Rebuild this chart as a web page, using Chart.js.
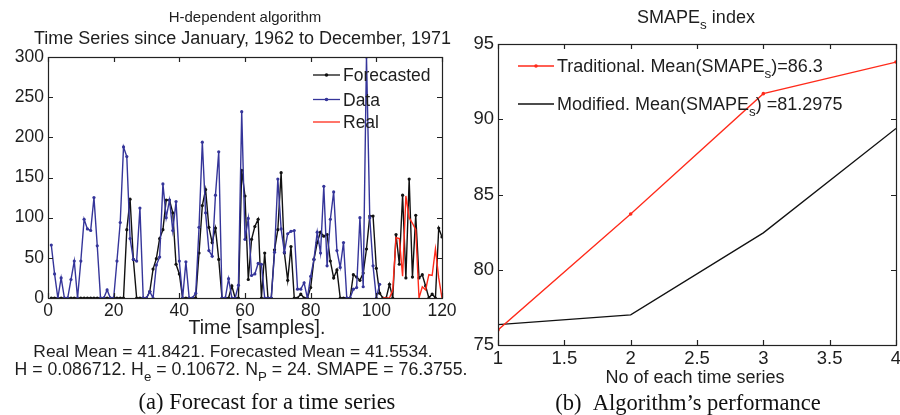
<!DOCTYPE html>
<html><head><meta charset="utf-8">
<script src="https://cdn.jsdelivr.net/npm/chart.js@4.4.1/dist/chart.umd.min.js"></script>
<style>
html,body{margin:0;padding:0;background:#fff;}
#wrap{position:relative;width:900px;height:415px;overflow:hidden;background:#fff;}
#c1{position:absolute;left:0;top:0;}
#c2{position:absolute;left:460px;top:0;}
</style></head><body>
<div id="wrap">
<canvas id="c1" width="480" height="415" style="width:480px;height:415px"></canvas>
<canvas id="c2" width="450" height="415" style="width:450px;height:415px"></canvas>
</div>
<script>
// ---------- data (left panel) ----------
const dataStart = 1;
const dataSeries = [
  66,30,0,25,0,0,23,46,0,46,
  98,86,84,125,65,0,0,10,0,0,
  46,94,188,176,74,48,46,112,0,0,
  8,0,41,51,142,100,122,84,120,46,
  0,45,0,0,6,88,194,106,59,52,
  128,182,0,0,24,0,0,16,232,73,
  99,28,30,43,42,0,0,0,57,148,
  86,57,80,83,84,11,11,19,0,27,
  48,82,56,139,40,98,132,59,38,69,
  0,0,11,13,100,14,300,100,40,0,
  17
];
const forecastStart = 1;
const forecastSeries = [
  0,0,0,0,0,0,0,0,0,0,
  0,0,0,0,0,0,0,0,0,0,
  0,0,0,85,123,48,0,0,0,0,
  8,36,49,74,85,122,122,106,42,30,
  0,0,0,0,0,56,115,135,88,69,
  87,48,0,0,0,15,0,0,159,127,
  23,73,89,98,0,56,0,0,60,85,
  156,56,22,64,0,0,5,0,0,13,
  48,69,82,77,79,46,25,35,0,0,
  0,0,29,26,22,31,61,102,102,37,
  6,0,0,17,0,79,42,128,25,148,
  26,103,25,29,15,0,5,0,87,76
];
const realStart = 102;
const realSeries = [0,0,0,10,75,74,27,127,100,93,85,0,14,10,29,28,61,25,0];
const leftLegend = ['Forecasted','Data','Real'];

// ---------- data (right panel) ----------
const seriesNo = [1,2,3,4];
const traditional = [76.0,83.7,91.7,93.8];
const modified = [76.35,77.0,82.45,89.39];

const FONT = '"Liberation Sans", Arial, sans-serif';
const SERIF = '"Liberation Serif", "Times New Roman", serif';
const TXT = '#1e1e1e';
const BLUE = '#35359a';
const RED = '#ff2a1a';
const BLACK = '#111111';

function toXY(arr, start){ return arr.map((v,i)=>({x:start+i, y:v})); }

// rich text with subscripts: parts = [[text, isSub], ...]
function rich(ctx, parts, x, y, size, opts){
  opts = opts || {};
  const fam = opts.family || FONT;
  const sub = size*0.75;
  ctx.save();
  ctx.fillStyle = opts.color || TXT;
  ctx.textBaseline = 'alphabetic';
  ctx.textAlign = 'left';
  let w = 0;
  parts.forEach(p=>{ ctx.font = (p[1]?sub:size)+'px '+fam; w += ctx.measureText(p[0]).width; });
  let cx = opts.align === 'left' ? x : x - w/2;
  const base = y + size*0.36;
  parts.forEach(p=>{
    ctx.font = (p[1]?sub:size)+'px '+fam;
    ctx.fillText(p[0], cx, p[1] ? base + size*0.32 : base);
    cx += ctx.measureText(p[0]).width;
  });
  ctx.restore();
}

const boxTicks = {
  id:'boxTicks',
  afterDatasetsDraw(chart){
    const {ctx, chartArea:a, scales} = chart;
    const x = scales.x, y = scales.y;
    ctx.save();
    ctx.strokeStyle = '#222'; ctx.lineWidth = 1.2;
    ctx.strokeRect(Math.round(a.left)+0.5, Math.round(a.top)+0.5, Math.round(a.right-a.left), Math.round(a.bottom-a.top));
    const L = 5;
    ctx.beginPath();
    x.ticks.forEach(t=>{
      const p = Math.round(x.getPixelForValue(t.value))+0.5;
      ctx.moveTo(p, a.bottom); ctx.lineTo(p, a.bottom-L);
      ctx.moveTo(p, a.top); ctx.lineTo(p, a.top+L);
    });
    y.ticks.forEach(t=>{
      const p = Math.round(y.getPixelForValue(t.value))+0.5;
      ctx.moveTo(a.left, p); ctx.lineTo(a.left+L, p);
      ctx.moveTo(a.right, p); ctx.lineTo(a.right-L, p);
    });
    ctx.stroke();
    ctx.restore();
  }
};

function legendLine(ctx, x1, x2, y, color, marker){
  ctx.save();
  ctx.strokeStyle = color; ctx.lineWidth = 1.3;
  ctx.beginPath(); ctx.moveTo(x1, y); ctx.lineTo(x2, y); ctx.stroke();
  if (marker){ ctx.fillStyle = color; ctx.beginPath(); ctx.arc((x1+x2)/2, y, 1.8, 0, Math.PI*2); ctx.fill(); }
  ctx.restore();
}

const leftText = {
  id:'leftText',
  afterDraw(chart){
    const ctx = chart.ctx;
    rich(ctx, [['H-dependent algorithm']], 245, 17, 15);
    rich(ctx, [['Time Series since January, 1962 to December, 1971']], 242.5, 38, 18);
    rich(ctx, [['Time [samples].']], 257, 327, 19.5);
    rich(ctx, [['Real Mean = 41.8421. Forecasted Mean = 41.5534.']], 233, 351, 17.4);
    rich(ctx, [['H = 0.086712. H'],['e',1],[' = 0.10672. N'],['P',1],[' = 24. SMAPE = 76.3755.']], 241, 369, 17.7);
    rich(ctx, [['(a) Forecast for a time series']], 267, 401, 22.5, {family:SERIF, color:'#111'});
    const cols = [BLACK, BLUE, RED];
    const ys = [75, 99.5, 122];
    leftLegend.forEach((lab,i)=>{
      legendLine(ctx, 313, 340, ys[i], cols[i], i<2);
      rich(ctx, [[lab]], 343, ys[i], 17.5, {align:'left'});
    });
  }
};

const rightText = {
  id:'rightText',
  afterDraw(chart){
    const ctx = chart.ctx;
    rich(ctx, [['SMAPE'],['s',1],[' index']], 236, 17, 18);
    rich(ctx, [['No of each time series']], 235, 377, 18);
    rich(ctx, [['(b)  Algorithm\u2019s performance']], 228, 402, 22.5, {family:SERIF, color:'#111'});
    legendLine(ctx, 58, 94, 66, RED, true);
    rich(ctx, [['Traditional. Mean(SMAPE'],['s',1],[')=86.3']], 97, 66, 18, {align:'left'});
    legendLine(ctx, 58, 94, 104, BLACK, false);
    rich(ctx, [['Modified. Mean(SMAPE'],['s',1],[') =81.2975']], 97, 104, 18, {align:'left'});
  }
};

Chart.defaults.font.family = FONT;
Chart.defaults.color = TXT;
Chart.defaults.animation = false;

new Chart(document.getElementById('c1'), {
  type:'line',
  data:{ datasets:[
    {label:leftLegend[0], data:toXY(forecastSeries, forecastStart), borderColor:BLACK, backgroundColor:BLACK,
     borderWidth:1.4, pointRadius:1.6, pointHoverRadius:1.6, pointBorderWidth:0, order:3, tension:0},
    {label:leftLegend[1], data:toXY(dataSeries, dataStart), borderColor:BLUE, backgroundColor:BLUE,
     borderWidth:1.4, pointRadius:1.6, pointHoverRadius:1.6, pointBorderWidth:0, order:2, tension:0},
    {label:leftLegend[2], data:toXY(realSeries, realStart), borderColor:RED, backgroundColor:RED,
     borderWidth:1.4, pointRadius:0, order:1, tension:0}
  ]},
  options:{
    responsive:false, animation:false,
    layout:{padding:{left:0, right:38, top:57, bottom:86}},
    plugins:{legend:{display:false}, tooltip:{enabled:false}},
    scales:{
      x:{type:'linear', min:0, max:120,
         ticks:{stepSize:20, font:{size:17.5}, color:TXT, padding:3, maxRotation:0, autoSkip:false},
         grid:{display:false, drawTicks:false}, border:{display:false},
         afterFit(s){ s.height = 31; }},
      y:{type:'linear', min:0, max:300,
         ticks:{stepSize:50, font:{size:17.5}, color:TXT, padding:4, autoSkip:false},
         grid:{display:false, drawTicks:false}, border:{display:false},
         afterFit(s){ s.width = 48; }}
    }
  },
  plugins:[boxTicks, leftText]
});

new Chart(document.getElementById('c2'), {
  type:'line',
  data:{ datasets:[
    {label:'Traditional', data:seriesNo.map((v,i)=>({x:v, y:traditional[i]})), borderColor:RED, backgroundColor:RED,
     borderWidth:1.3, pointRadius:1.8, pointBorderWidth:0, tension:0},
    {label:'Modified', data:seriesNo.map((v,i)=>({x:v, y:modified[i]})), borderColor:BLACK, backgroundColor:BLACK,
     borderWidth:1.3, pointRadius:0, tension:0}
  ]},
  options:{
    responsive:false, animation:false,
    layout:{padding:{left:0, right:14, top:44, bottom:39}},
    plugins:{legend:{display:false}, tooltip:{enabled:false}},
    scales:{
      x:{type:'linear', min:1, max:4,
         ticks:{stepSize:0.5, font:{size:18.5}, color:TXT, padding:3, maxRotation:0, autoSkip:false,
                callback:(v)=>String(Math.round(v*10)/10)},
         grid:{display:false, drawTicks:false}, border:{display:false},
         afterFit(s){ s.height = 31; }},
      y:{type:'linear', min:75, max:95,
         ticks:{stepSize:5, font:{size:18.5}, color:TXT, padding:4, autoSkip:false},
         grid:{display:false, drawTicks:false}, border:{display:false},
         afterFit(s){ s.width = 38; }}
    }
  },
  plugins:[boxTicks, rightText]
});
</script>
</body></html>
